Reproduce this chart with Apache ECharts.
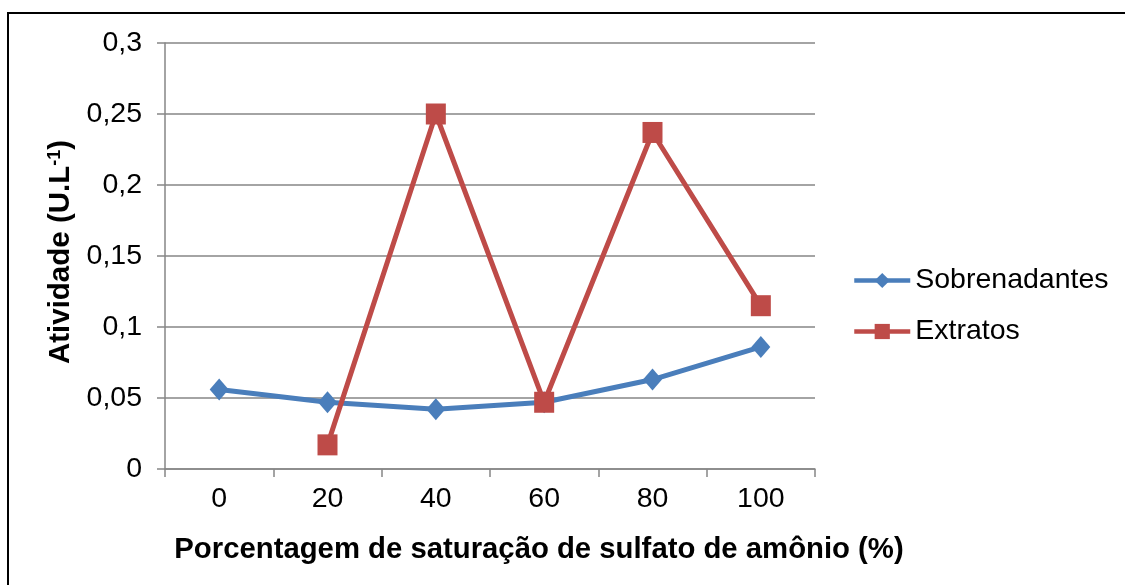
<!DOCTYPE html>
<html>
<head>
<meta charset="utf-8">
<script src="https://cdn.jsdelivr.net/npm/echarts@6/dist/echarts.min.js"></script>
<style>
html,body{margin:0;padding:0;background:#fff;}
#chart{width:1125px;height:585px;}
</style>
</head>
<body>
<div id="chart"></div>
<script>
const categories = ['0', '20', '40', '60', '80', '100'];
const sobrenadantes = [0.056, 0.047, 0.042, 0.047, 0.063, 0.086];
const extratos = [null, 0.017, 0.250, 0.047, 0.237, 0.115];
const yTicks = [0, 0.05, 0.1, 0.15, 0.2, 0.25, 0.3];

const FONT = '"Liberation Sans", Arial, sans-serif';
const GRAY = '#868686';
const BLUE = '#4a7ebb';
const RED = '#be4b48';

const chart = echarts.init(document.getElementById('chart'));
chart.setOption({
  animation: false,
  backgroundColor: '#fff',
  textStyle: { fontFamily: FONT },
  graphic: [{
    type: 'rect',
    shape: { x: 8, y: 13, width: 1300, height: 800 },
    style: { fill: 'none', stroke: '#000', lineWidth: 2 },
    silent: true
  }],
  grid: { left: 165, right: 310, top: 43, bottom: 116, containLabel: false },
  legend: {
    orient: 'vertical',
    left: 847,
    top: 261,
    itemWidth: 56,
    itemHeight: 19,
    itemGap: 22,
    textStyle: { fontFamily: FONT, fontSize: 28.5, color: '#000' },
    data: [
      { name: 'Sobrenadantes', itemStyle: { color: BLUE }, lineStyle: { width: 4.5, color: BLUE } },
      { name: 'Extratos', itemStyle: { color: RED }, lineStyle: { width: 4.5, color: RED } }
    ]
  },
  xAxis: {
    type: 'category',
    data: categories,
    boundaryGap: true,
    name: 'Porcentagem de saturação de sulfato de amônio (%)',
    nameLocation: 'middle',
    nameGap: 66,
    nameTextStyle: { fontFamily: FONT, fontSize: 29.3, fontWeight: 'bold', color: '#000', padding: [0, 0, 0, 98] },
    axisLine: { lineStyle: { color: GRAY, width: 1.5 } },
    axisTick: { show: true, alignWithLabel: false, length: 8, lineStyle: { color: GRAY, width: 1.5 } },
    axisLabel: { fontFamily: FONT, fontSize: 28.5, color: '#000', margin: 16 },
    splitLine: { show: false }
  },
  yAxis: {
    type: 'value',
    min: yTicks[0],
    max: yTicks[yTicks.length - 1],
    interval: 0.05,
    name: '{t|Atividade (U.L}{s|-1}{t|)}',
    nameLocation: 'middle',
    nameGap: 88,
    nameRotate: 90,
    nameTextStyle: {
      padding: [0, 0, 0, 8],
      rich: {
        t: { fontFamily: FONT, fontSize: 29.5, fontWeight: 'bold', color: '#000' },
        s: { fontFamily: FONT, fontSize: 18, fontWeight: 'bold', color: '#000', verticalAlign: 'top', padding: [0, 0, 12, 0] }
      }
    },
    axisLine: { show: true, lineStyle: { color: GRAY, width: 1.5 } },
    axisTick: { show: true, length: 8, lineStyle: { color: GRAY, width: 1.5 } },
    axisLabel: {
      fontFamily: FONT, fontSize: 28.5, color: '#000', margin: 23,
      formatter: v => {
        const r = Math.round(v * 100) / 100;
        return String(r).replace('.', ',');
      }
    },
    splitLine: { show: true, lineStyle: { color: GRAY, width: 1.5 } }
  },
  series: [
    {
      name: 'Sobrenadantes',
      type: 'line',
      data: sobrenadantes,
      color: BLUE,
      lineStyle: { width: 5, color: BLUE },
      symbol: 'diamond',
      symbolSize: [19, 22],
      itemStyle: { color: BLUE },
      z: 3
    },
    {
      name: 'Extratos',
      type: 'line',
      data: extratos,
      color: RED,
      lineStyle: { width: 5, color: RED },
      symbol: 'rect',
      symbolSize: [20, 21],
      itemStyle: { color: RED },
      connectNulls: false,
      z: 4
    }
  ]
});
</script>
</body>
</html>
